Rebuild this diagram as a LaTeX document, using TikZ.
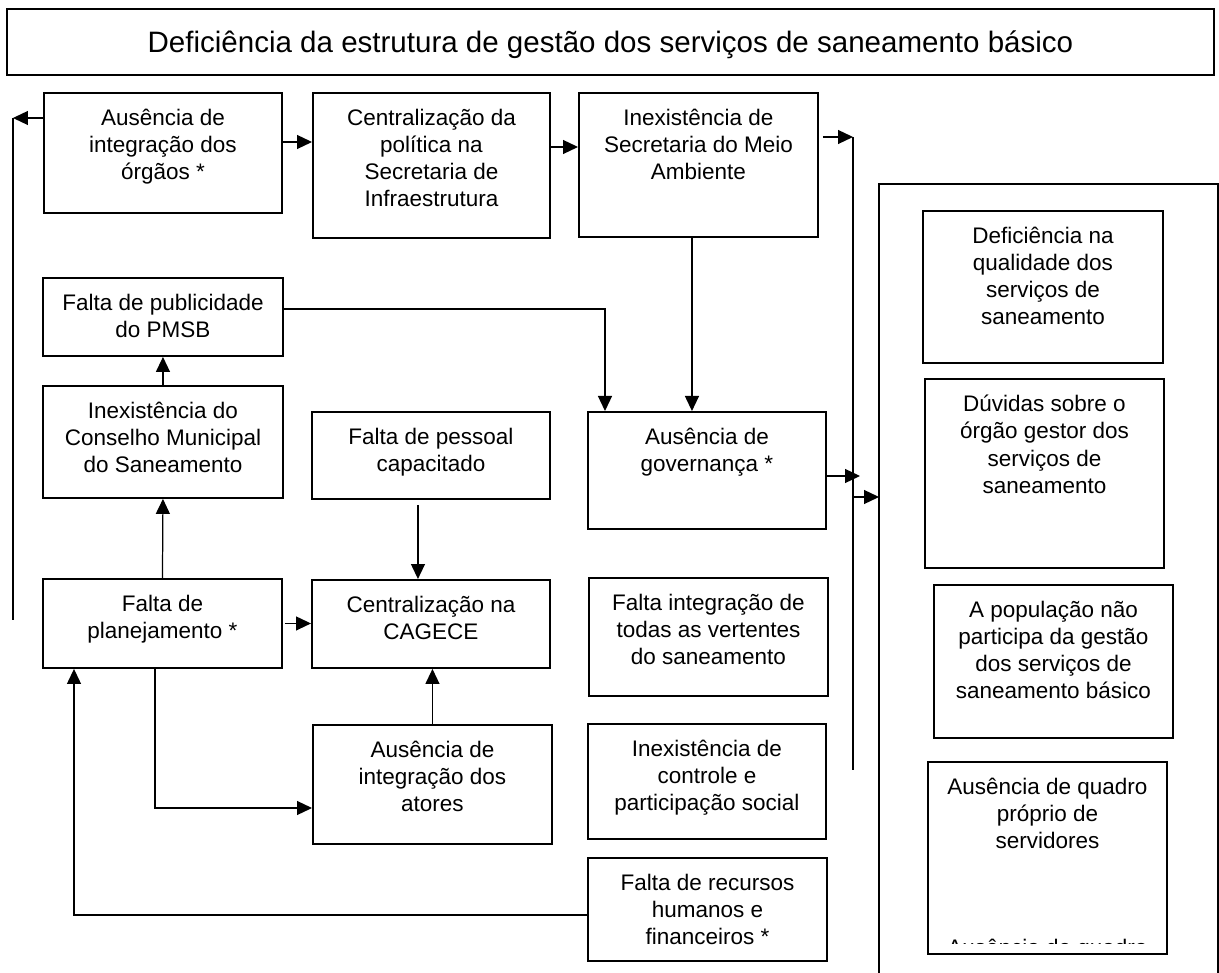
\documentclass[tikz,border=0pt]{standalone}
\usepackage{fontspec}
\setmainfont{Liberation Sans}
\usetikzlibrary{arrows.meta}

\tikzset{
  caixa/.style={draw, line width=1.1pt, anchor=north west, inner sep=0pt},
  texto/.style={anchor=north, inner sep=0pt, align=center,
    font=\fontsize{12.8pt}{15.4pt}\selectfont},
  seta/.style={line width=0.7pt, -{Triangle[length=3mm, width=2.8mm]}},
  linha/.style={line width=0.7pt}
}

\begin{document}
\begin{tikzpicture}

        \useasboundingbox (0,0) rectangle (24.38,-19.46);

        % titulo
        \node[caixa, minimum width=24.14cm, minimum height=1.32cm] (titulo) at (0.12,-0.16) {};
        \node[anchor=base, inner sep=0pt, font=\fontsize{16.8pt}{19pt}\selectfont] (t-titulo)
          at (titulo.center |- 0,-1.06) {Deficiência da estrutura de gestão dos serviços de saneamento básico};

        % caixas
        \node[caixa, minimum width=4.76cm, minimum height=2.4cm] (orgaos) at (0.86,-1.84) {};
        \node[caixa, minimum width=4.74cm, minimum height=2.9cm] (politica) at (6.24,-1.84) {};
        \node[caixa, minimum width=4.78cm, minimum height=2.88cm] (meioamb) at (11.56,-1.84) {};
        \node[caixa, minimum width=4.8cm, minimum height=1.56cm] (publicidade) at (0.84,-5.54) {};
        \node[caixa, minimum width=4.8cm, minimum height=2.24cm] (conselho) at (0.84,-7.7) {};
        \node[caixa, minimum width=4.76cm, minimum height=1.74cm] (pessoal) at (6.22,-8.22) {};
        \node[caixa, minimum width=4.76cm, minimum height=2.34cm] (governanca) at (11.74,-8.22) {};
        \node[caixa, minimum width=4.78cm, minimum height=1.78cm] (planejamento) at (0.84,-11.56) {};
        \node[caixa, minimum width=4.76cm, minimum height=1.76cm] (cagece) at (6.22,-11.58) {};
        \node[caixa, minimum width=4.78cm, minimum height=2.36cm] (vertentes) at (11.76,-11.54) {};
        \node[caixa, minimum width=4.78cm, minimum height=2.38cm] (atores) at (6.24,-14.48) {};
        \node[caixa, minimum width=4.76cm, minimum height=2.3cm] (controle) at (11.74,-14.46) {};
        \node[caixa, minimum width=4.78cm, minimum height=2.06cm] (recursos) at (11.74,-17.14) {};

        % quadro da direita
        \draw[line width=1.1pt] (17.58,-19.46) -- (17.58,-3.68) -- (24.36,-3.68) -- (24.36,-19.46);
        \node[caixa, minimum width=4.8cm, minimum height=3.04cm] (qualidade) at (18.44,-4.2) {};
        \node[caixa, minimum width=4.78cm, minimum height=3.78cm] (duvidas) at (18.48,-7.56) {};
        \node[caixa, minimum width=4.78cm, minimum height=3.06cm] (populacao) at (18.66,-11.68) {};
        \node[caixa, minimum width=4.78cm, minimum height=3.84cm] (quadro) at (18.54,-15.22) {};

        % textos
        \node[texto] (t-orgaos) at ([yshift=-3.4mm]orgaos.north) {Ausência de\\integração dos\\órgãos *};
        \node[texto] (t-politica) at ([yshift=-3.4mm]politica.north) {Centralização da\\política na\\Secretaria de\\Infraestrutura};
        \node[texto] (t-meioamb) at ([yshift=-3.4mm]meioamb.north) {Inexistência de\\Secretaria do Meio\\Ambiente};
        \node[texto] (t-publicidade) at ([yshift=-3.4mm]publicidade.north) {Falta de publicidade\\do PMSB};
        \node[texto] (t-conselho) at ([yshift=-3.4mm]conselho.north) {Inexistência do\\Conselho Municipal\\do Saneamento};
        \node[texto] (t-pessoal) at ([yshift=-3.4mm]pessoal.north) {Falta de pessoal\\capacitado};
        \node[texto] (t-governanca) at ([yshift=-3.4mm]governanca.north) {Ausência de\\governança *};
        \node[texto] (t-planejamento) at ([yshift=-3.4mm]planejamento.north) {Falta de\\planejamento *};
        \node[texto] (t-cagece) at ([yshift=-3.4mm]cagece.north) {Centralização na\\CAGECE};
        \node[texto] (t-vertentes) at ([yshift=-3.4mm]vertentes.north) {Falta integração de\\todas as vertentes\\do saneamento};
        \node[texto] (t-atores) at ([yshift=-3.4mm]atores.north) {Ausência de\\integração dos\\atores};
        \node[texto] (t-controle) at ([yshift=-3.4mm]controle.north) {Inexistência de\\controle e\\participação social};
        \node[texto] (t-recursos) at ([yshift=-3.4mm]recursos.north) {Falta de recursos\\humanos e\\financeiros *};
        \node[texto] (t-qualidade) at ([yshift=-3.4mm]qualidade.north) {Deficiência na\\qualidade dos\\serviços de\\saneamento};
        \node[texto] (t-duvidas) at ([yshift=-3.4mm]duvidas.north) {Dúvidas sobre o\\órgão gestor dos\\serviços de\\saneamento};
        \node[texto] (t-populacao) at ([yshift=-3.4mm]populacao.north) {A população não\\participa da gestão\\dos serviços de\\saneamento básico};
        \node[texto] (t-quadro) at ([yshift=-3.4mm]quadro.north) {Ausência de quadro\\próprio de\\servidores};
        \begin{scope}
          \clip (quadro.west |- 0,-18.5) rectangle (quadro.east |- 0,-18.86);
          \node[texto] (t-quadro2) at (quadro.center |- 0,-18.77) {Ausência de quadro};
        \end{scope}

        % setas
        \coordinate (esq) at (0.26,-2.36);
        \coordinate (esqfim) at (0.26,-12.4);
        \draw[seta] (orgaos.west |- esq) -- (esq);
        \draw[linha] (esq) -- (esqfim);

        \draw[seta] (orgaos.east |- 0,-2.84) -- (politica.west |- 0,-2.84);
        \draw[seta] (politica.east |- 0,-2.94) -- (meioamb.west |- 0,-2.94);

        \coordinate (dir) at (17.06,-2.74);
        \coordinate (dirfim) at (17.06,-15.4);
        \draw[seta, shorten <=0.08cm] (meioamb.east |- dir) -- (dir);
        \draw[linha] (dir) -- (dirfim);

        \draw[seta] ([xshift=-1.3mm]meioamb.south) -- ([xshift=-1.3mm]meioamb.south |- governanca.north);

        \coordinate (pub) at (12.1,-6.18);
        \draw[seta] (publicidade.east |- pub) -- (pub) -- (pub |- governanca.north);

        \coordinate (gov) at (17.2,-9.52);
        \draw[seta] (governanca.east |- gov) -- (gov);
        \coordinate (ent-a) at (17.06,-9.94);
        \coordinate (ent-b) at (17.58,-9.94);
        \draw[seta] (ent-a) -- (ent-b);

        \draw[seta] (planejamento.north) -- (conselho.south);
        \draw[seta] (conselho.north) -- (publicidade.south);
        \draw[seta, shorten <=0.04cm] (planejamento.east) -- (cagece.west |- planejamento.east);
        \draw[seta, shorten <=0.1cm] ([xshift=-2.6mm]pessoal.south) -- ([xshift=-2.6mm]pessoal.south |- cagece.north);
        \draw[seta] (atores.north) -- (atores.north |- cagece.south);

        \coordinate (desce) at (3.1,-16.16);
        \draw[seta] (desce |- planejamento.south) -- (desce) -- (atores.west |- desce);

        \coordinate (canto) at (1.48,-18.3);
        \draw[seta] (recursos.west |- canto) -- (canto) -- (canto |- planejamento.south);

    \end{tikzpicture}
\end{document}
